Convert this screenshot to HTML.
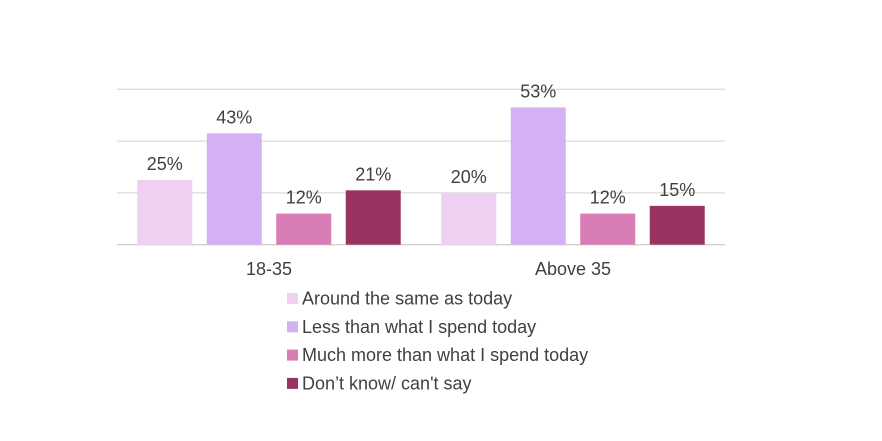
<!DOCTYPE html>
<html><head><meta charset="utf-8"><style>
body{margin:0;background:#fff;}
svg text{font-family:"Liberation Sans",sans-serif;}
</style></head><body>
<svg width="882" height="436" viewBox="0 0 882 436">
<g id="grid"></g><g id="bars"></g><g id="labels"></g><g id="legend"></g>
</svg>
<script>
const categories = ["18-35", "Above 35"];
const seriesNames = ["Around the same as today", "Less than what I spend today", "Much more than what I spend today", "Don\u2019t know/ can't say"];
const seriesValues = [[25, 20], [43, 53], [12, 12], [21, 15]];
const gridTicks = [0, 20, 40, 60];
const colors = ["#f0d0f0", "#d4b0f4", "#d87cb4", "#983464"];
const NS = "http://www.w3.org/2000/svg";
const x0 = 117, x1 = 725, base = 244.7, pxPer = 2.59;
const y = v => base - v * pxPer;
const groupW = (x1 - x0) / categories.length;
const barW = 55, step = 69.5;
function mk(tag, attrs, parent){const e=document.createElementNS(NS,tag);for(const k in attrs)e.setAttribute(k,attrs[k]);parent.appendChild(e);return e;}
const grid = document.getElementById('grid');
gridTicks.forEach(t=>{
  const l = mk('line',{x1:x0,x2:x1,y1:y(t),y2:y(t),stroke:t===0?'#d0d0d0':'#dcdcdc','stroke-width':1.3},grid);
  
  
});
const bars = document.getElementById('bars'), labels = document.getElementById('labels');
categories.forEach((c,ci)=>{
  const cx = x0 + groupW*(ci+0.5);
  seriesValues.forEach((vals,si)=>{
    const v = vals[ci];
    const bx = cx - 1.5*step - barW/2 + si*step;
    const r = mk('rect',{x:bx,y:y(v),width:barW,height:base-y(v),fill:colors[si]},bars);
    
    
    const t = mk('text',{x:bx+barW/2,y:y(v)-10,'text-anchor':'middle','font-size':18,fill:'#404040'},labels);
    t.textContent = v + '%';
    
    
  });
  const ct = mk('text',{x:cx,y:275,'text-anchor':'middle','font-size':18,fill:'#404040'},labels);
  ct.textContent = c;
  
  
});
const legend = document.getElementById('legend');
seriesNames.forEach((n,i)=>{
  const ly = 298 + i*28.3;
  const g = mk('g',{},legend);
  
  
  mk('rect',{x:287,y:ly-5,width:11,height:11,fill:colors[i]},g);
  const t = mk('text',{x:302,y:ly+6.5,'font-size':18,fill:'#404040'},g);
  t.textContent = n;
});
</script>
</body></html>
